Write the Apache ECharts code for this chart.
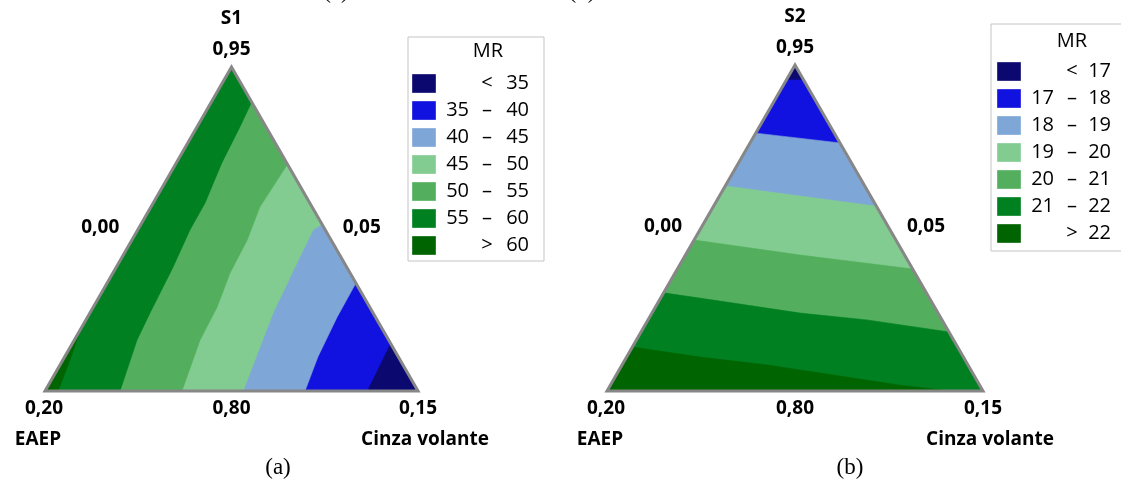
<!DOCTYPE html>
<html>
<head>
<meta charset="utf-8">
<script src="https://cdn.jsdelivr.net/npm/echarts@6/dist/echarts.min.js"></script>
<style>
  html, body { margin: 0; padding: 0; background: #ffffff; }
  #chart { width: 1121px; height: 484px; }
</style>
</head>
<body>
<div id="chart"></div>
<script>
// Mixture contour plots of MR. Points are [S1, Cinza volante] pseudo-component
// fractions (EAEP = 1 - S1 - Cinza); every contour runs from one side of the simplex
// to another, and MR grows towards the EAEP corner (bottom left).
const bandColors = ['#0b0870', '#1212e0', '#7ea7d8', '#82cc91', '#53af5d', '#008021', '#006400'];

// (a) S1
const levelsA = [35, 40, 45, 50, 55, 60];
const contourA35 = [[0, 0.863], [0.148, 0.852]];
const contourA40 = [[0, 0.697], [0.105, 0.679], [0.228, 0.669], [0.333, 0.667]];
const contourA45 = [[0, 0.531], [0.241, 0.491], [0.395, 0.478], [0.497, 0.470], [0.515, 0.485]];
const contourA50 = [[0, 0.367], [0.157, 0.337], [0.259, 0.332], [0.364, 0.314], [0.466, 0.309], [0.568, 0.292], [0.700, 0.300]];
const contourA55 = [[0, 0.201], [0.157, 0.168], [0.241, 0.161], [0.383, 0.152], [0.497, 0.140], [0.580, 0.139], [0.704, 0.122], [0.815, 0.115], [0.892, 0.108]];
const contourA60 = [[0, 0.035], [0.096, 0.019], [0.190, 0]];

// (b) S2
const levelsB = [17, 18, 19, 20, 21, 22];
const contourB17 = [[0.954, 0], [0.954, 0.046]];
const contourB18 = [[0.791, 0], [0.761, 0.239]];
const contourB19 = [[0.629, 0], [0.598, 0.214], [0.567, 0.433]];
const contourB20 = [[0.463, 0], [0.417, 0.305], [0.374, 0.626]];
const contourB21 = [[0.301, 0], [0.279, 0.142], [0.239, 0.394], [0.218, 0.582], [0.181, 0.819]];
const contourB22 = [[0.135, 0], [0.104, 0.195], [0.080, 0.386], [0.049, 0.577], [0.018, 0.770], [0, 0.912]];

// Axis tick labels: vertices (S, EAEP, Cinza) and side midpoints (left, right, bottom)
const vertexTicksA = ['0,95', '0,20', '0,15'];
const sideTicksA = ['0,00', '0,05', '0,80'];
const vertexTicksB = ['0,95', '0,20', '0,15'];
const sideTicksB = ['0,00', '0,05', '0,80'];
const componentNamesA = ['S1', 'EAEP', 'Cinza volante'];
const componentNamesB = ['S2', 'EAEP', 'Cinza volante'];
const legendTitle = 'MR';
const captions = ['(a)', '(b)'];
const previousRowCaptions = ['(c)', '(d)'];

// ---- simplex geometry ----
// corners in [S1, Cinza]: bottom-left (EAEP), bottom-right (Cinza), top (S)
const CORNERS = [[0, 0], [0, 1], [1, 0]];
function toXY(p) { return [p[1] + p[0] / 2, p[0]]; }
// position of a boundary point along the perimeter: 0..1 bottom, 1..2 right, 2..3 left
function perim(p) {
  const a = p[0], b = p[1], c = 1 - a - b, eps = 1e-3;
  if (a < eps) return b;
  if (c < eps) return 1 + a;
  return 2 + (1 - a);
}
// region on the EAEP-corner side of a contour
function upperRegion(line) {
  const ts = perim(line[0]), te = perim(line[line.length - 1]);
  const pts = line.slice();
  if (ts < te) {
    const end = ts + 3;
    for (let k = Math.floor(te) + 1; k < end; k++) pts.push(CORNERS[k % 3]);
  } else {
    const end = ts - 3;
    for (let k = Math.ceil(te) - 1; k > end; k--) pts.push(CORNERS[((k % 3) + 3) % 3]);
  }
  return pts;
}
function buildRegions(contours) {
  const regions = [{ band: 0, pts: CORNERS.slice() }];
  contours.forEach(function (c, i) { regions.push({ band: i + 1, pts: upperRegion(c) }); });
  return regions;
}
const regionsA = buildRegions([contourA35, contourA40, contourA45, contourA50, contourA55, contourA60]);
const regionsB = buildRegions([contourB17, contourB18, contourB19, contourB20, contourB21, contourB22]);

function bandSeries(g, regions) {
  return {
    type: 'custom', xAxisIndex: g, yAxisIndex: g, silent: true, animation: false,
    data: regions.map(function (r, i) { return [i, r.band]; }),
    renderItem: function (params, api) {
      const r = regions[params.dataIndex];
      const col = bandColors[r.band];
      return {
        type: 'polygon',
        shape: { points: r.pts.map(function (q) { return api.coord(toXY(q)); }) },
        style: { fill: col, stroke: col, lineWidth: 0.6 }
      };
    }
  };
}
function frameSeries(g) {
  return {
    type: 'custom', xAxisIndex: g, yAxisIndex: g, silent: true, animation: false, z: 5,
    data: [[0]],
    renderItem: function (params, api) {
      return {
        type: 'polygon',
        shape: { points: CORNERS.map(function (q) { return api.coord(toXY(q)); }) },
        style: { fill: 'none', stroke: '#878787', lineWidth: 3, lineJoin: 'miter' }
      };
    }
  };
}
const tickFont = 'bold 19px "Open Sans", "Noto Sans", sans-serif';
function labelSeries(g, vt, st, names) {
  const items = [
    { p: CORNERS[2], t: vt[0], o: [0, -17] },
    { p: CORNERS[2], t: names[0], o: [0, -48] },
    { p: [0.5, 0], t: st[0], o: [-38, -1] },
    { p: [0.5, 0.5], t: st[1], o: [37, -1] },
    { p: [0, 0.5], t: st[2], o: [0, 18] },
    { p: CORNERS[0], t: vt[1], o: [-1, 18] },
    { p: CORNERS[0], t: names[1], o: [-7, 49] },
    { p: CORNERS[1], t: vt[2], o: [0, 18] },
    { p: CORNERS[1], t: names[2], o: [7, 49] }
  ];
  return {
    type: 'custom', xAxisIndex: g, yAxisIndex: g, silent: true, animation: false, z: 6,
    data: items.map(function (it) { return toXY(it.p); }),
    renderItem: function (params, api) {
      const it = items[params.dataIndex];
      const c = api.coord(toXY(it.p));
      return {
        type: 'text', x: c[0] + it.o[0], y: c[1] + it.o[1],
        style: { text: it.t, fill: '#000000', align: 'center', verticalAlign: 'middle', font: tickFont }
      };
    }
  };
}

// ---- legends ----
const legendFont = '20px "Open Sans", "Noto Sans", sans-serif';
function legendGraphics(levels, box, rows) {
  const els = [];
  els.push({ type: 'rect', left: box.x, top: box.y, shape: { width: box.w, height: box.h },
    style: { fill: '#ffffff', stroke: '#c4c4c4', lineWidth: 1 } });
  els.push({ type: 'text', x: rows.titleX, y: rows.titleY,
    style: { text: legendTitle, align: 'center', verticalAlign: 'middle', fill: '#000', font: legendFont } });
  for (let i = 0; i <= levels.length; i++) {
    const top = rows.y0 + i * rows.dy;
    const cy = top + 9.5;
    els.push({ type: 'rect', x: rows.sx, y: top, shape: { width: 24, height: 19 },
      style: { fill: bandColors[i], stroke: 'rgba(255,255,255,0.35)', lineWidth: 1 } });
    let lo = '', mid = '\u2013', hi = '';
    if (i === 0) { mid = '<'; hi = String(levels[0]); }
    else if (i === levels.length) { mid = '>'; hi = String(levels[levels.length - 1]); }
    else { lo = String(levels[i - 1]); hi = String(levels[i]); }
    if (lo) els.push({ type: 'text', x: rows.loX, y: cy, style: { text: lo, align: 'right', verticalAlign: 'middle', fill: '#000', font: legendFont } });
    els.push({ type: 'text', x: rows.midX, y: cy, style: { text: mid, align: 'center', verticalAlign: 'middle', fill: '#000', font: legendFont } });
    els.push({ type: 'text', x: rows.hiX, y: cy, style: { text: hi, align: 'right', verticalAlign: 'middle', fill: '#000', font: legendFont } });
  }
  return els;
}

const captionFont = '23px "Liberation Serif", "Times New Roman", serif';
const graphics = []
  .concat(legendGraphics(levelsA, { x: 407.5, y: 36.5, w: 136, h: 224 },
    { titleX: 488, titleY: 51, y0: 74, dy: 27, sx: 412, loX: 469, midX: 487, hiX: 529 }))
  .concat(legendGraphics(levelsB, { x: 990.5, y: 23.5, w: 150, h: 227 },
    { titleX: 1072, titleY: 41, y0: 62, dy: 27, sx: 997, loX: 1054, midX: 1072, hiX: 1111 }))
  .concat([
    { type: 'text', x: 278, y: 468, style: { text: captions[0], align: 'center', verticalAlign: 'middle', fill: '#000', font: captionFont } },
    { type: 'text', x: 850, y: 468, style: { text: captions[1], align: 'center', verticalAlign: 'middle', fill: '#000', font: captionFont } },
    // captions of the row above, cut by the top edge
    { type: 'text', x: 336, y: -8, style: { text: previousRowCaptions[0], align: 'center', verticalAlign: 'middle', fill: '#000', font: captionFont } },
    { type: 'text', x: 582, y: -8, style: { text: previousRowCaptions[1], align: 'center', verticalAlign: 'middle', fill: '#000', font: captionFont } }
  ]);

const chart = echarts.init(document.getElementById('chart'), null, { renderer: 'canvas' });
chart.setOption({
  animation: false,
  backgroundColor: '#ffffff',
  grid: [
    { left: 45, top: 67, width: 373, height: 324 },
    { left: 607, top: 65, width: 376, height: 326 }
  ],
  xAxis: [
    { gridIndex: 0, type: 'value', min: 0, max: 1, show: false },
    { gridIndex: 1, type: 'value', min: 0, max: 1, show: false }
  ],
  yAxis: [
    { gridIndex: 0, type: 'value', min: 0, max: 1, show: false },
    { gridIndex: 1, type: 'value', min: 0, max: 1, show: false }
  ],
  series: [
    bandSeries(0, regionsA), frameSeries(0), labelSeries(0, vertexTicksA, sideTicksA, componentNamesA),
    bandSeries(1, regionsB), frameSeries(1), labelSeries(1, vertexTicksB, sideTicksB, componentNamesB)
  ],
  graphic: graphics
});
</script>
</body>
</html>
